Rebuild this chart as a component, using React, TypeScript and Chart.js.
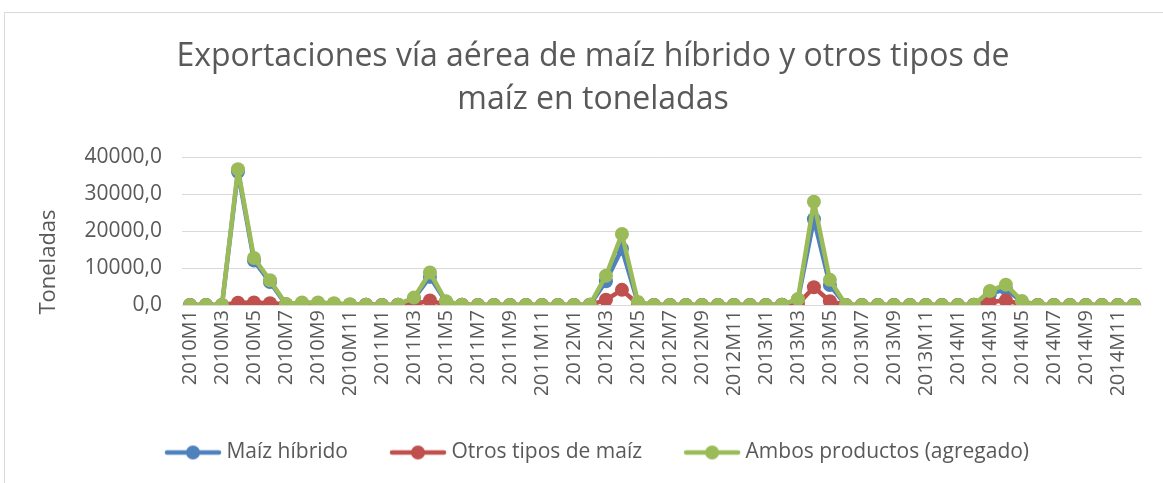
import React, { useEffect, useRef } from "react";
import { Chart, registerables } from "chart.js";

Chart.register(...registerables);

const years = ["2010", "2011", "2012", "2013", "2014"];
const months = ["M1", "M2", "M3", "M4", "M5", "M6", "M7", "M8", "M9", "M10", "M11", "M12"];
const categories: string[] = years.flatMap((y) => months.map((m) => y + m));

const maizHibrido = [
  0, 0, 0, 36000, 12000, 6200, 100, 300, 300, 200, 100, 50,
  0, 50, 1800, 7600, 900, 50, 0, 0, 0, 0, 0, 0,
  0, 50, 6400, 15200, 600, 0, 0, 0, 0, 0, 0, 0,
  0, 50, 1400, 23200, 5400, 0, 0, 0, 0, 0, 0, 0,
  0, 50, 3000, 4300, 900, 0, 0, 0, 0, 0, 0, 0,
];
const otrosTipos = [
  0, 0, 0, 600, 700, 500, 200, 400, 400, 300, 100, 50,
  0, 50, 200, 1200, 100, 50, 0, 0, 0, 0, 0, 0,
  0, 50, 1400, 4100, 200, 0, 0, 0, 0, 0, 0, 0,
  0, 50, 200, 4800, 1000, 0, 0, 0, 0, 0, 0, 0,
  0, 50, 800, 1200, 200, 0, 0, 0, 0, 0, 0, 0,
];
const ambos = [
  0, 0, 0, 36700, 12700, 6700, 300, 700, 700, 500, 200, 100,
  0, 100, 2000, 8800, 1000, 100, 0, 0, 0, 0, 0, 0,
  0, 100, 7900, 19200, 800, 0, 0, 0, 0, 0, 0, 0,
  0, 100, 1600, 27900, 6800, 0, 0, 0, 0, 0, 0, 0,
  0, 100, 3800, 5500, 1100, 0, 0, 0, 0, 0, 0, 0,
];
const seriesNames = ["Maíz híbrido", "Otros tipos de maíz", "Ambos productos (agregado)"];
const seriesColors = ["#4f81bd", "#c0504d", "#9bbb59"];
const titleLines = ["Exportaciones vía aérea de maíz híbrido y otros tipos de", "maíz en toneladas"];
const yTitle = "Toneladas";
const yTicks = { min: 0, max: 40000, step: 10000 };

const FONT = "'Open Sans', sans-serif";
const TEXT = "#595959";

function legendIcon(color: string): HTMLCanvasElement {
  const c = document.createElement("canvas");
  c.width = 58;
  c.height = 16;
  const ctx = c.getContext("2d")!;
  ctx.strokeStyle = color;
  ctx.lineWidth = 4.5;
  ctx.lineCap = "round";
  ctx.beginPath();
  ctx.moveTo(3, 8);
  ctx.lineTo(55, 8);
  ctx.stroke();
  ctx.fillStyle = color;
  ctx.beginPath();
  ctx.arc(29, 8, 7, 0, Math.PI * 2);
  ctx.fill();
  return c;
}

const decorPlugin = {
  id: "decor",
  afterLayout(chart: any) {
    if (chart.legend) {
      chart.legend.left -= 8;
      chart.legend.right -= 8;
    }
  },
  beforeDraw(chart: any) {
    const ctx = chart.ctx;
    ctx.save();
    ctx.strokeStyle = "#d9d9d9";
    ctx.lineWidth = 1;
    ctx.strokeRect(4.5, 12.5, 1400, 600);
    ctx.restore();
  },
  afterDraw(chart: any) {
    const ctx = chart.ctx;
    ctx.save();
    ctx.fillStyle = TEXT;
    ctx.textAlign = "center";
    ctx.textBaseline = "middle";
    ctx.font = `32px ${FONT}`;
    ctx.fillText(titleLines[0], 593, 57);
    ctx.fillText(titleLines[1], 593, 100);
    ctx.translate(49, 262);
    ctx.rotate(-Math.PI / 2);
    ctx.font = `22px ${FONT}`;
    ctx.fillText(yTitle, 0, 0);
    ctx.restore();
  },
};

export default function App() {
  const ref = useRef<HTMLCanvasElement>(null);
  useEffect(() => {
    document.body.style.margin = "0";
    const data = [maizHibrido, otrosTipos, ambos];
    const orders = [3, 2, 1];
    const chart = new Chart(ref.current!, {
      type: "line",
      data: {
        labels: categories,
        datasets: data.map((d, i) => ({
          label: seriesNames[i],
          data: d,
          borderColor: seriesColors[i],
          backgroundColor: seriesColors[i],
          borderWidth: 4.5,
          borderJoinStyle: "round",
          borderCapStyle: "round",
          pointRadius: 7,
          pointBorderWidth: 0,
          pointBackgroundColor: seriesColors[i],
          pointStyle: "circle",
          tension: 0,
          order: orders[i],
          legendIcon: legendIcon(seriesColors[i]),
        })) as any,
      },
      options: {
        animation: false,
        responsive: false,
        layout: { padding: { top: 157, left: 70, right: 18, bottom: 10 } },
        plugins: {
          title: { display: false },
          tooltip: { enabled: false },
          legend: {
            position: "bottom",
            labels: {
              font: { family: FONT, size: 21 },
              color: TEXT,
              usePointStyle: true,
              pointStyleWidth: 46,
              boxHeight: 16,
              padding: 47,
              sort: (a: any, b: any) => a.datasetIndex - b.datasetIndex,
              generateLabels: (ch: any) =>
                ch.data.datasets.map((ds: any, i: number) => ({
                  text: ds.label,
                  fillStyle: ds.borderColor,
                  strokeStyle: ds.borderColor,
                  fontColor: TEXT,
                  lineWidth: 0,
                  pointStyle: ds.legendIcon,
                  hidden: false,
                  datasetIndex: i,
                })),
            },
          },
        },
        scales: {
          x: {
            offset: true,
            grid: { display: false, drawTicks: false },
            border: { display: false },
            ticks: {
              autoSkip: false,
              minRotation: 90,
              maxRotation: 90,
              padding: 5,
              color: TEXT,
              font: { family: FONT, size: 20 },
              callback: (_v: any, i: number) => (i % 2 === 0 ? categories[i] : ""),
            },
            afterFit: (s: any) => {
              s.height = 90;
            },
          },
          y: {
            min: yTicks.min,
            max: yTicks.max,
            grid: { color: "#d9d9d9", lineWidth: 1, drawTicks: false },
            border: { display: false },
            ticks: {
              stepSize: yTicks.step,
              padding: 20,
              color: TEXT,
              font: { family: FONT, size: 21 },
              callback: (v: any) => Number(v).toFixed(1).replace(".", ","),
            },
            afterFit: (s: any) => {
              s.width = 112;
            },
          },
        },
      },
      plugins: [decorPlugin],
    });
    return () => chart.destroy();
  }, []);
  return (
    <div style={{ position: "relative", width: 1163, height: 483, overflow: "hidden" }}>
      <canvas ref={ref} width={1163} height={483} style={{ display: "block" }} />
    </div>
  );
}
